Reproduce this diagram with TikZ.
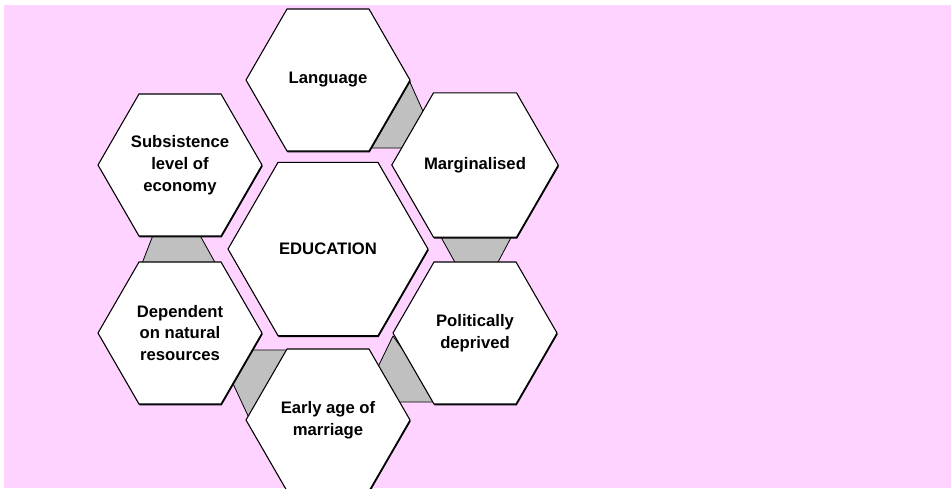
\documentclass[tikz,border=0pt]{standalone}
\usepackage{fontspec}
\setmainfont{Liberation Sans}
\usetikzlibrary{shapes.geometric,shadows}
\definecolor{bgpink}{RGB}{255,211,255}
\definecolor{linkgray}{RGB}{192,192,192}
\tikzset{
  hexcell/.style={regular polygon,regular polygon sides=6,draw,line width=0.8pt,fill=white,
    minimum size=123pt,inner sep=0pt,align=center,
    font=\fontsize{12.5}{16.3}\selectfont\bfseries,
    drop shadow={shadow xshift=0.5pt,shadow yshift=-1.1pt,fill=black,opacity=1}},
  hexcentre/.style={hexcell,minimum size=150pt},
  link/.style={fill=linkgray,draw,line width=0.6pt,line join=round}
}
\begin{document}
\begin{tikzpicture}[x=0.75pt,y=-0.75pt]
  \useasboundingbox (0,0) rectangle (951,489);
  \fill[bgpink] (4,5) rectangle (951,488);

  \draw[link] (409,80) -- (426,118) -- (415,148) -- (371,148) -- cycle;
  \draw[link] (437,230) -- (515,230) -- (496,266) -- (457,266) -- cycle;
  \draw[link] (155,230) -- (197,230) -- (217,266) -- (141,266) -- cycle;
  \draw[link] (240,350) -- (295,350) -- (250,420) -- (228,373) -- cycle;
  \draw[link] (393,336) -- (375,373) -- (395,402) -- (440,402) -- cycle;

  \node[hexcell] (lang)  at (328,80)  {Language};
  \node[hexcell] (subs)  at (180,165) {Subsistence\\level of\\economy};
  \node[hexcell] (marg)  at (475,165) {Marginalised};
  \node[hexcentre] (edu) at (328,249) {EDUCATION};
  \node[hexcell] (dep)   at (180,333) {Dependent\\on natural\\resources};
  \node[hexcell] (pol)   at (475,333) {Politically\\deprived};
  \node[hexcell] (early) at (328,420) {Early age of\\marriage};
\end{tikzpicture}
\end{document}
